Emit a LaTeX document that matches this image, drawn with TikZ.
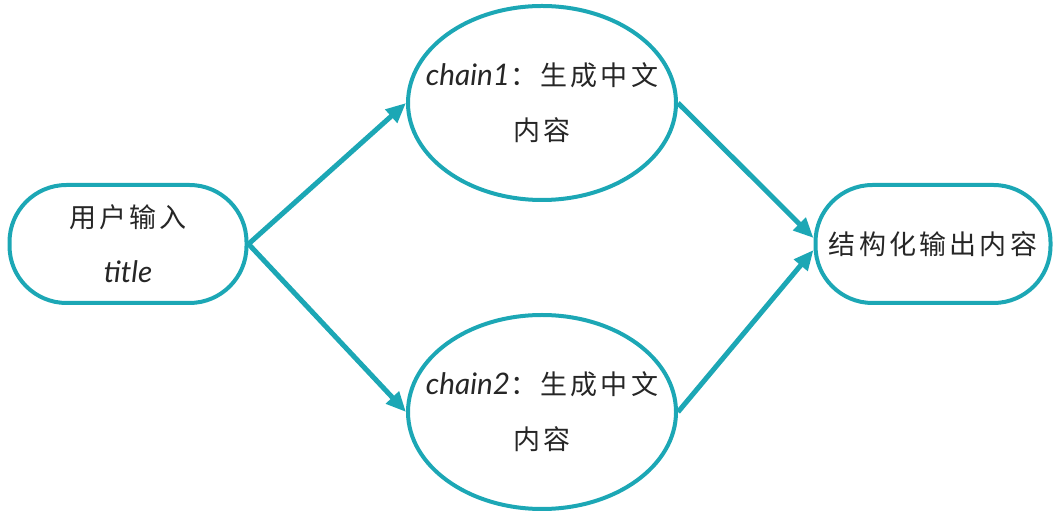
\documentclass[tikz,border=0pt]{standalone}
\usepackage{fontspec}
\setmainfont{Noto Sans CJK SC}[LetterSpace=12]
\newfontfamily\latinit{Lato}[Scale=1.1]
\usetikzlibrary{arrows.meta,shapes.geometric}
\definecolor{flowteal}{HTML}{1CA7B5}
\newcommand{\lat}[1]{{\latinit\itshape #1}}

\begin{document}
\begin{tikzpicture}[x=1pt,y=1pt,
    every node/.style={font=\fontsize{27}{55}\selectfont, align=center, text=black!85},
    endbox/.style={draw=flowteal, line width=4pt, rectangle, rounded corners=57pt,
      minimum height=118pt, inner sep=0pt},
    chainbox/.style={draw=flowteal, line width=4pt, ellipse,
      minimum width=268pt, minimum height=194pt, inner sep=0pt},
    flow/.style={draw=flowteal, line width=5pt, -{Triangle[length=20pt,width=17pt]}}]
  \useasboundingbox (0,0) rectangle (1062,516);
  \node[endbox, minimum width=237pt] (user) at (128,272) {用户输入\\\lat{title}};
  \node[chainbox] (c1) at (542,413) {};
  \node (c1txt) at (c1) {\lat{chain1}：生成中文\\内容};
  \node[chainbox] (c2) at (542,104) {};
  \node (c2txt) at (c2) {\lat{chain2}：生成中文\\内容};
  \node[endbox, minimum width=235pt] (out) at (933,272) {结构化输出内容};
  % arrows
  \draw[flow] (user.east) -- (c1.west);
  \draw[flow] (user.east) -- (c2.west);
  \draw[flow] (c1.east) -- ([yshift=6pt]out.west);
  \draw[flow] (c2.east) -- ([yshift=-6pt]out.west);
\end{tikzpicture}
\end{document}
